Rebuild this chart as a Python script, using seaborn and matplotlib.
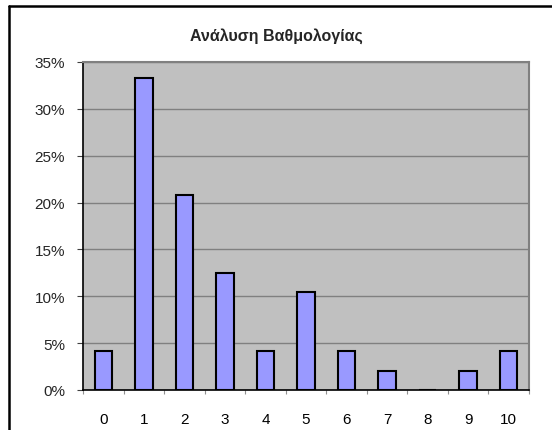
import matplotlib
matplotlib.use("Agg")
import matplotlib.pyplot as plt
import seaborn as sns
import pandas as pd
from matplotlib.lines import Line2D
from matplotlib.ticker import FixedLocator

grades = ["0", "1", "2", "3", "4", "5", "6", "7", "8", "9", "10"]
percent = [4.17, 33.33, 20.83, 12.5, 4.17, 10.42, 4.17, 2.08, 0.0, 2.08, 4.17]
ytick_vals = [0, 5, 10, 15, 20, 25, 30, 35]
ytick_labels = ["0%", "5%", "10%", "15%", "20%", "25%", "30%", "35%"]
title = "Ανάλυση Βαθμολογίας"

sns.set_theme(style="white")
plt.rcParams["font.family"] = ["Liberation Sans", "DejaVu Sans"]

df = pd.DataFrame({"grade": grades, "pct": percent})

fig = plt.figure(figsize=(5.52, 4.31), dpi=100)
fig.patch.set_facecolor("white")
ax = fig.add_axes([83 / 552, 1 - 391 / 431, (529 - 83) / 552, (391 - 63) / 431])

sns.barplot(data=df, x="grade", y="pct", ax=ax, color="#9999FF",
            edgecolor="black", linewidth=1.5, width=0.43, saturation=1)
for p in ax.patches:
    p.set_facecolor("#9999FF")

ax.set_facecolor("#C0C0C0")
ax.set_xlim(-0.5, len(grades) - 0.5)
ax.set_ylim(0, 35)
ax.set_yticks(ytick_vals)
ax.set_yticklabels(ytick_labels)
ax.yaxis.grid(True, color="#808080", linewidth=1.0)
ax.set_axisbelow(True)
ax.set_xlabel("")
ax.set_ylabel("")

ax.xaxis.set_minor_locator(FixedLocator([i - 0.5 for i in range(len(grades) + 1)]))
ax.tick_params(axis="x", which="major", length=0, pad=15.5, labelsize=11, colors="black")
ax.tick_params(axis="x", which="minor", length=3, width=0.8, color="#909090", direction="out", bottom=True)
ax.tick_params(axis="y", which="major", length=4, width=0.8, color="#404040", direction="out",
               pad=9, labelsize=11, left=True)

for side in ["top", "right"]:
    ax.spines[side].set_color("#808080")
    ax.spines[side].set_linewidth(1.5)
for side in ["left", "bottom"]:
    ax.spines[side].set_color("black")
    ax.spines[side].set_linewidth(1.2)

fig.text(0.5, 1 - 36 / 431, title, ha="center", va="center",
         fontsize=11.5, fontweight="bold")

# outer chart frame (top and left edges visible)
fig.add_artist(Line2D([8.5 / 552, 1.0], [1 - 7 / 431, 1 - 7 / 431], color="black",
                      linewidth=1.8, transform=fig.transFigure))
fig.add_artist(Line2D([8.5 / 552, 8.5 / 552], [0.0, 1 - 7 / 431], color="black",
                      linewidth=1.8, transform=fig.transFigure))

fig.savefig("out.png", dpi=100)
